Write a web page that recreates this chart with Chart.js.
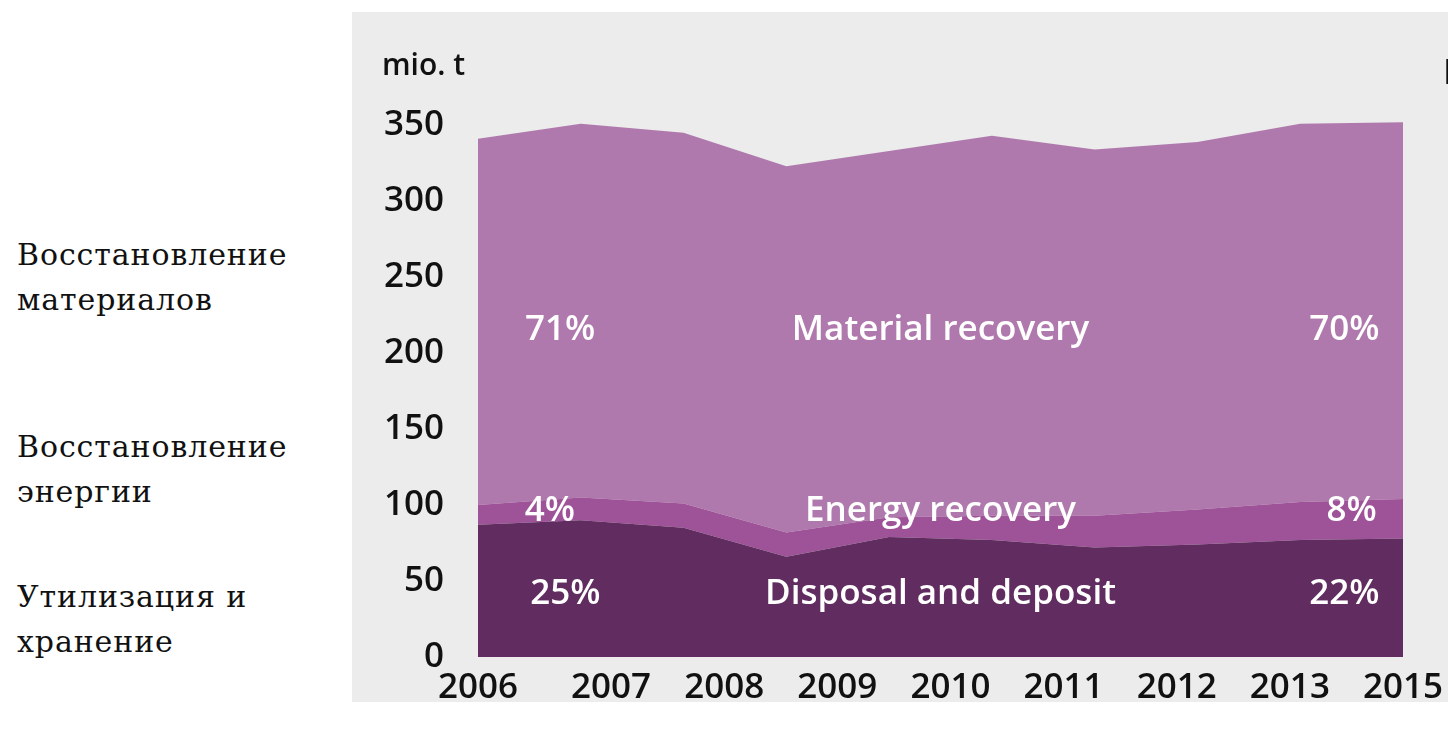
<!DOCTYPE html>
<html>
<head>
<meta charset="utf-8">
<title>Waste treatment</title>
<script src="https://cdn.jsdelivr.net/npm/chart.js@4.4.0/dist/chart.umd.min.js"></script>
<style>
  html, body { margin: 0; padding: 0; background: #fff; }
  body { width: 1448px; height: 730px; position: relative; overflow: hidden; }
  .panel { position: absolute; left: 352px; top: 12px; width: 1096px; height: 690px; background: #ebeceb; }
  .panel canvas { position: absolute; left: 0; top: 0; }
  .unit { position: absolute; left: 30px; top: 37px; font: 600 30px/1 'Open Sans', sans-serif; color: #111; }
  .cut { position: absolute; left: 1091px; top: 41px; font: 600 35px/1 'Open Sans', sans-serif; color: #111; }
  .ru { position: absolute; left: 17px; font: 30px/45px 'DejaVu Serif', serif; letter-spacing: 0.9px; color: #111; }
</style>
</head>
<body>
<div class="ru" style="top:232px">Восстановление<br>материалов</div>
<div class="ru" style="top:424px">Восстановление<br>энергии</div>
<div class="ru" style="top:574px">Утилизация и<br>хранение</div>
<div class="panel">
  <canvas id="chart" width="1096" height="690"></canvas>
  <div class="unit">mio. t</div>
  <div class="cut">E</div>
</div>
<script>
// данные (млн т)
var years = [2006, 2007, 2008, 2009, 2010, 2011, 2012, 2013, 2014, 2015];
var disposal = [87, 90, 85, 66, 79, 77, 72, 74, 77, 78];
var energy = [13, 15, 16, 16, 13, 16, 21, 23, 25, 26];
var material = [241, 246, 244, 241, 241, 250, 241, 242, 249, 248];
// подписи оси x как на оригинале (2014 пропущен)
var tickLabels = ['2006', '2007', '2008', '2009', '2010', '2011', '2012', '2013', '2015'];
var yTicks = [0, 50, 100, 150, 200, 250, 300, 350];

// white labels inside the areas, in data units
var areaNotes = [
  { text: '71%', x: 2006.8, y: 215 },
  { text: 'Material recovery', x: 2010.5, y: 215 },
  { text: '70%', x: 2014.43, y: 215 },
  { text: '4%', x: 2006.7, y: 96 },
  { text: 'Energy recovery', x: 2010.5, y: 96 },
  { text: '8%', x: 2014.5, y: 96 },
  { text: '25%', x: 2006.85, y: 41.5 },
  { text: 'Disposal and deposit', x: 2010.5, y: 41.5 },
  { text: '22%', x: 2014.43, y: 41.5 }
];

var tickFont = { family: 'Open Sans', size: 35, weight: '600' };

var notesPlugin = {
  id: 'areaNotes',
  afterDatasetsDraw: function (chart) {
    var ctx = chart.ctx, xs = chart.scales.x, ys = chart.scales.y;
    ctx.save();
    ctx.fillStyle = '#fff';
    ctx.font = '600 35px "Open Sans"';
    ctx.textAlign = 'center';
    ctx.textBaseline = 'middle';
    areaNotes.forEach(function (n) {
      ctx.fillText(n.text, xs.getPixelForValue(n.x), ys.getPixelForValue(n.y));
    });
    ctx.restore();
  }
};

function area(label, data, color, fill) {
  return { label: label, data: data, backgroundColor: color, borderColor: color,
    borderWidth: 0, pointRadius: 0, fill: fill, tension: 0 };
}

new Chart(document.getElementById('chart'), {
  type: 'line',
  data: {
    labels: years,
    datasets: [
      area('Disposal and deposit', disposal, '#612d60', 'origin'),
      area('Energy recovery', energy, '#9e5399', '-1'),
      area('Material recovery', material, '#b079ad', '-1')
    ]
  },
  options: {
    responsive: false,
    animation: false,
    layout: { padding: { top: 98, right: 45, bottom: 0, left: 0 } },
    plugins: { legend: { display: false }, tooltip: { enabled: false } },
    scales: {
      x: { type: 'linear', min: 2006, max: 2015, display: false },
      xt: {
        type: 'linear', position: 'bottom', min: -0.176, max: 8,
        afterBuildTicks: function (s) {
          s.ticks = tickLabels.map(function (t, i) { return { value: i === 0 ? s.min : i }; });
        },
        afterFit: function (s) { s.height = 45; s.paddingLeft = 0; s.paddingRight = 0; },
        ticks: {
          autoSkip: false, maxRotation: 0, padding: 10, color: '#111', font: tickFont,
          callback: function (v, i) { return tickLabels[i]; }
        },
        grid: { display: false, drawTicks: false },
        border: { display: false }
      },
      y: {
        stacked: true, min: 0, max: 360,
        afterBuildTicks: function (s) {
          s.ticks = yTicks.map(function (v) { return { value: v }; });
        },
        // метки вылезают за область графика, отступы не нужны
        afterFit: function (s) { s.width = 126; s.paddingTop = 0; s.paddingBottom = 0; },
        ticks: { padding: 34, color: '#111', font: tickFont },
        grid: { display: false, drawTicks: false },
        border: { display: false }
      }
    }
  },
  plugins: [notesPlugin]
});
</script>
</body>
</html>
